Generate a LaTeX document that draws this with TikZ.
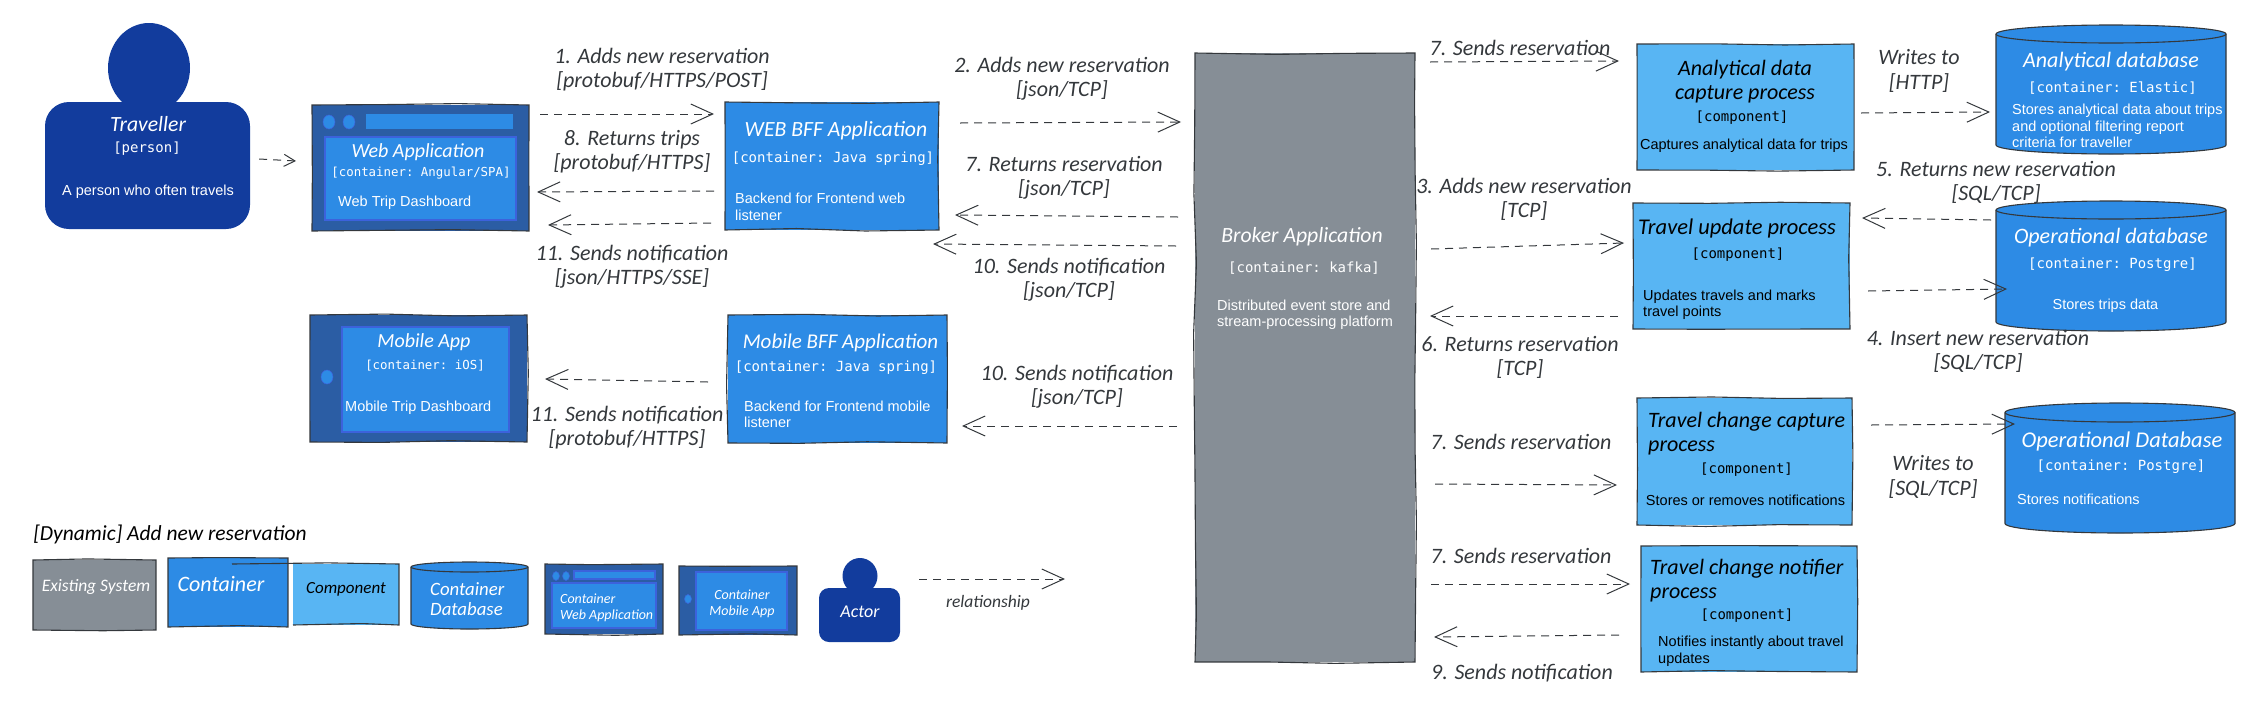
\documentclass[tikz,border=0pt]{standalone}
\usepackage{fontspec}
\setmainfont{Liberation Sans}
\setmonofont{DejaVu Sans Mono}
\newfontfamily\handfont{Carlito}
\usetikzlibrary{arrows.meta,decorations.pathmorphing,shapes.geometric}
\definecolor{inkc}{HTML}{34383C}
\definecolor{personc}{HTML}{123C9D}
\definecolor{framec}{HTML}{2B5DA4}
\definecolor{contc}{HTML}{2D8BE5}
\definecolor{compc}{HTML}{58B5F3}
\definecolor{greyc}{HTML}{868E96}
\definecolor{edgec}{HTML}{3C62DC}
\newcommand{\handsize}[1]{\handfont\itshape\fontsize{#1}{1.1\dimexpr #1pt\relax}\selectfont}
% node name, half width, height of the end ellipse
\newcommand{\dbshape}[3]{
  \draw[dbline,fill=contc] ([yshift=-#3pt]#1.north west) arc[start angle=180,end angle=0,x radius=#2pt,y radius=#3pt] -- ([yshift=#3pt]#1.south east) arc[start angle=0,end angle=-180,x radius=#2pt,y radius=#3pt] -- cycle;
  \draw[dbline] ([yshift=-#3pt]#1.north west) arc[start angle=180,end angle=360,x radius=#2pt,y radius=#3pt];
}
\tikzset{
  rough/.style={postaction={draw=inkc,line width=1.1pt,decorate,decoration={random steps,segment length=70pt,amplitude=1.5pt}}},
  blockbox/.style={inner sep=0pt,outer sep=0pt,rough},
  appbox/.style={blockbox,fill=contc},
  compbox/.style={blockbox,fill=compc},
  extbox/.style={blockbox,fill=greyc},
  framebox/.style={blockbox,fill=framec},
  panelbox/.style={inner sep=0pt,outer sep=0pt,fill=contc,draw=edgec,line width=1.2pt},
  dbbox/.style={inner sep=0pt,outer sep=0pt},
  dbline/.style={draw=inkc,line width=1.1pt},
  personbody/.style={inner sep=0pt,fill=personc,rounded corners=24pt},
  personhead/.style={shape=ellipse,inner sep=0pt,fill=personc},
  dotmark/.style={shape=ellipse,inner sep=0pt,fill=contc,draw=edgec,line width=.5pt},
  hand/.style={font=\handsize{22},text=inkc,align=center,inner sep=0pt},
  whitetitle/.style={font=\handsize{21.7},text=white,align=center,inner sep=0pt},
  blacktitle/.style={font=\handsize{22.5},text=black,align=center,inner sep=0pt},
  kind/.style={font=\ttfamily\fontsize{14}{15}\selectfont,inner sep=0pt},
  desc/.style={font=\fontsize{14.5}{16.5}\selectfont,align=left,inner sep=0pt},
  rel/.style={draw=inkc,line width=1pt,dash pattern=on 8pt off 6pt,-{Straight Barb[length=22pt,width=20pt]}},
  smallrel/.style={rel,-{Straight Barb[length=11pt,width=12pt]}}
}
\begin{document}
\begin{tikzpicture}[x=1pt,y=-1pt]
\pgfmathsetseed{12}
\useasboundingbox (0,0) rectangle (2249,710);

% traveller
\node[personhead,minimum width=82pt,minimum height=90pt] (travellerhead) at (149,68) {};
\node[personbody,minimum width=205pt,minimum height=127pt] (traveller) at (147.5,165.5) {};
\node[whitetitle] (travellertitle) at (148,124) {Traveller};
\node[kind,text=white] (travellerkind) at (147,149) {[person]};
\node[desc,text=white] (travellerdesc) at (148,192) {A person who often travels};

% web application
\node[framebox,minimum width=217pt,minimum height=126pt] (webapp) at (420.5,168) {};
\node[dotmark,minimum width=12pt,minimum height=14pt] (webdotone) at (329,122) {};
\node[dotmark,minimum width=12pt,minimum height=14pt] (webdottwo) at (349,122) {};
\node[inner sep=0pt,fill=contc,minimum width=147pt,minimum height=15pt] (webbar) at (439.5,121.5) {};
\node[panelbox,minimum width=191pt,minimum height=83pt] (webpanel) at (420.5,178.5) {};
\node[whitetitle,font=\handsize{20}] (webapptitle) at (418,152) {Web Application};
\node[kind,text=white,font=\ttfamily\fontsize{12.4}{15}\selectfont] (webappkind) at (421,173) {[container: Angular/SPA]};
\node[desc,text=white,anchor=west] (webappdesc) at (338,203) {Web Trip Dashboard};

% web bff
\node[appbox,minimum width=214pt,minimum height=128pt] (webbff) at (832,166) {};
\node[whitetitle] (webbfftitle) at (836,131) {WEB BFF Application};
\node[kind,text=white] (webbffkind) at (833,159) {[container: Java spring]};
\node[desc,text=white,anchor=west] (webbffdesc) at (735,207) {Backend for Frontend web\\listener};

% mobile application
\node[framebox,minimum width=217pt,minimum height=127pt] (mobileapp) at (418.5,378.5) {};
\node[dotmark,minimum width=12pt,minimum height=14pt] (mobiledot) at (327,377) {};
\node[panelbox,minimum width=167pt,minimum height=105pt] (mobilepanel) at (425.5,379.5) {};
\node[whitetitle,font=\handsize{20}] (mobileapptitle) at (424,342) {Mobile App};
\node[kind,text=white,font=\ttfamily\fontsize{12.4}{15}\selectfont] (mobileappkind) at (425,366) {[container: iOS]};
\node[desc,text=white,anchor=west] (mobileappdesc) at (345,408) {Mobile Trip Dashboard};

% mobile bff
\node[appbox,minimum width=219pt,minimum height=128pt] (mobilebff) at (837.5,379) {};
\node[whitetitle,font=\handsize{21}] (mobilebfftitle) at (840.5,343) {Mobile BFF Application};
\node[kind,text=white] (mobilebffkind) at (836,368) {[container: Java spring]};
\node[desc,text=white,anchor=west] (mobilebffdesc) at (744,414.5) {Backend for Frontend mobile\\listener};

% broker
\node[extbox,minimum width=220pt,minimum height=609pt] (broker) at (1305,357.5) {};
\node[whitetitle] (brokertitle) at (1302,237) {Broker Application};
\node[kind,text=white] (brokerkind) at (1304,268) {[container: kafka]};
\node[desc,text=white,anchor=west] (brokerdesc) at (1217,314.5) {Distributed event store and\\stream-processing platform};

% components
\node[compbox,minimum width=217pt,minimum height=126pt] (analytical) at (1745.5,107) {};
\node[blacktitle,font=\handsize{22}] (analyticaltitle) at (1745,82) {Analytical data\\capture process};
\node[kind] (analyticalkind) at (1742,118) {[component]};
\node[desc] (analyticaldesc) at (1744,146) {Captures analytical data for trips};

\node[compbox,minimum width=217pt,minimum height=126pt] (update) at (1741.5,266) {};
\node[blacktitle] (updatetitle) at (1737,228) {Travel update process};
\node[kind] (updatekind) at (1738,255) {[component]};
\node[desc,anchor=west] (updatedesc) at (1643,304.5) {Updates travels and marks\\travel points};

\node[compbox,minimum width=215pt,minimum height=127pt] (change) at (1744.5,461.5) {};
\node[blacktitle,anchor=west,align=left,font=\handsize{22}] (changetitle) at (1648,434) {Travel change capture\\process};
\node[kind] (changekind) at (1746.5,470) {[component]};
\node[desc] (changedesc) at (1745.5,500) {Stores or removes notifications};

\node[compbox,minimum width=216pt,minimum height=126pt] (notifier) at (1749,609) {};
\node[blacktitle,anchor=west,align=left,font=\handsize{22}] (notifiertitle) at (1650,581) {Travel change notifier\\process};
\node[kind] (notifierkind) at (1747,616) {[component]};
\node[desc,anchor=west] (notifierdesc) at (1658,651) {Notifies instantly about  travel\\updates};

% databases
\node[dbbox,minimum width=230pt,minimum height=129pt] (anadb) at (2111,89.5) {};
\dbshape{anadb}{115}{9}
\node[whitetitle,font=\handsize{22}] (anadbtitle) at (2111,62) {Analytical database};
\node[kind,text=white] (anadbkind) at (2112.5,88) {[container: Elastic]};
\node[desc,text=white,anchor=west] (anadbdesc) at (2012,126) {Stores analytical data about trips\\and  optional filtering report\\criteria for traveller};

\node[dbbox,minimum width=230pt,minimum height=130pt] (opdb) at (2111,266) {};
\dbshape{opdb}{115}{9}
\node[whitetitle,font=\handsize{22}] (opdbtitle) at (2111,238) {Operational database};
\node[kind,text=white] (opdbkind) at (2112.5,265) {[container: Postgre]};
\node[desc,text=white] (opdbdesc) at (2105.5,306) {Stores trips data};

\node[dbbox,minimum width=230pt,minimum height=130pt] (notifdb) at (2120,468) {};
\dbshape{notifdb}{115}{9.5}
\node[whitetitle,font=\handsize{22.5}] (notifdbtitle) at (2122,441) {Operational Database};
\node[kind,text=white] (notifdbkind) at (2121,467) {[container: Postgre]};
\node[desc,text=white,anchor=west] (notifdbdesc) at (2017,499) {Stores notifications};

% connectors
\draw[smallrel] ([shift={(9,-6.5)}]traveller.east) -- ([shift={(-16,-7)}]webapp.west);
\draw[rel] ([shift={(11,-54)}]webapp.east) -- ([shift={(-11,-52)}]webbff.west);
\draw[rel] ([shift={(-11,25)}]webbff.west) -- ([shift={(8,24)}]webapp.east);
\draw[rel] ([shift={(-14,57)}]webbff.west) -- ([shift={(19,57)}]webapp.east);
\draw[rel] ([shift={(21,-43)}]webbff.east) -- ([shift={(-14,-235.5)}]broker.west);
\draw[rel] ([shift={(-17,-140.5)}]broker.west) -- ([shift={(16,49)}]webbff.east);
\draw[rel] ([shift={(-19,-111.5)}]broker.west) -- ([shift={(-6,78)}]webbff.east);
\draw[rel] ([shift={(-20,3)}]mobilebff.west) -- ([shift={(18,.5)}]mobileapp.east);
\draw[rel] ([shift={(-18,68.5)}]broker.west) -- ([shift={(15,47)}]mobilebff.east);
\draw[rel] ([shift={(15,-295.5)}]broker.east) -- ([shift={(-18,-46)}]analytical.west);
\draw[rel] ([shift={(16,-108.5)}]broker.east) -- ([shift={(-9,-23)}]update.west);
\draw[rel] ([shift={(-15,50)}]update.west) -- ([shift={(15,-41.5)}]broker.east);
\draw[rel] ([shift={(20,126.5)}]broker.east) -- ([shift={(-20,23.5)}]change.west);
\draw[rel] ([shift={(16,226.5)}]broker.east) -- ([shift={(-11,-25)}]notifier.west);
\draw[rel] ([shift={(-22,26)}]notifier.west) -- ([shift={(19,279.5)}]broker.east);
\draw[rel] ([shift={(7,6)}]analytical.east) -- ([shift={(-121,22.5)}]anadb.center);
\draw[rel] ([shift={(-120,-46)}]opdb.center) -- ([shift={(12,-48)}]update.east);
\draw[rel] ([shift={(18,25)}]update.east) -- ([shift={(-104,23)}]opdb.center);
\draw[rel] ([shift={(19,-36.5)}]change.east) -- ([shift={(-105,-44)}]notifdb.center);

% connector labels
\node[hand] (labelone) at (662,70) {1. Adds new reservation\\{[protobuf/HTTPS/POST]}};
\node[hand] (labeleight) at (632,152) {8. Returns trips\\{[protobuf/HTTPS]}};
\node[hand] (labeleleven) at (632,267) {11. Sends notification\\{[json/HTTPS/SSE]}};
\node[hand] (labeltwo) at (1062,79) {2. Adds new reservation\\{[json/TCP]}};
\node[hand] (labelseven) at (1064,178) {7. Returns reservation\\{[json/TCP]}};
\node[hand] (labelten) at (1069,280) {10. Sends notification\\{[json/TCP]}};
\node[hand] (labelmobileten) at (1077,387) {10. Sends notification\\{[json/TCP]}};
\node[hand] (labelmobileeleven) at (627,428) {11. Sends notification\\{[protobuf/HTTPS]}};
\node[hand] (labelanalytical) at (1520,48) {7. Sends reservation};
\node[hand] (labelhttp) at (1919,71) {Writes to\\{[HTTP]}};
\node[hand] (labelfive) at (1996,182) {5. Returns new reservation\\{[SQL/TCP]}};
\node[hand] (labelthree) at (1524,199) {3. Adds new reservation\\{[TCP]}};
\node[hand] (labelsix) at (1520,357) {6. Returns reservation\\{[TCP]}};
\node[hand] (labelfour) at (1978,351) {4. Insert new reservation\\{[SQL/TCP]}};
\node[hand] (labelchange) at (1521,442) {7. Sends reservation};
\node[hand] (labelsql) at (1933,477) {Writes to\\{[SQL/TCP]}};
\node[hand] (labelnotifier) at (1521,556) {7. Sends reservation};
\node[hand] (labelnine) at (1522,673) {9. Sends notification};

% legend
\node[hand,text=black,font=\handsize{21.5}] (legendtitle) at (170,534) {[Dynamic] Add new reservation};
\node[extbox,minimum width=123pt,minimum height=70pt] (legendext) at (94.5,595) {};
\node[whitetitle,font=\handsize{17.5}] (legendexttext) at (96,587) {Existing System};
\node[appbox,minimum width=120pt,minimum height=69pt] (legendcont) at (228,592.5) {};
\node[whitetitle,font=\handsize{22}] (legendconttext) at (221,584) {Container};
\node[compbox,minimum width=106pt,minimum height=61pt] (legendcomp) at (346,594.5) {};
\node[blacktitle,font=\handsize{17}] (legendcomptext) at (346,589) {Component};
\node[dbbox,minimum width=117pt,minimum height=67pt] (legenddb) at (469.5,595.5) {};
\dbshape{legenddb}{58.5}{5}
\node[whitetitle,anchor=west,align=left,font=\handsize{18.8}] (legenddbtext) at (430,599) {Container\\Database};
\node[framebox,minimum width=118pt,minimum height=70pt] (legendweb) at (604,599) {};
\node[dotmark,minimum width=7pt,minimum height=9pt] (legenddotone) at (556,576) {};
\node[dotmark,minimum width=7pt,minimum height=9pt] (legenddottwo) at (566,576) {};
\node[panelbox,minimum width=81pt,minimum height=8pt] (legendbar) at (614.5,575) {};
\node[panelbox,minimum width=104pt,minimum height=45pt] (legendwebpanel) at (604,605.5) {};
\node[whitetitle,anchor=west,align=left,font=\handsize{14}] (legendwebtext) at (560,608) {Container\\Web Application};
\node[framebox,minimum width=118pt,minimum height=69pt] (legendmobile) at (738,600.5) {};
\node[dotmark,minimum width=7pt,minimum height=9pt] (legenddot) at (688,599) {};
\node[panelbox,minimum width=91pt,minimum height=58pt] (legendmobilepanel) at (741.5,601) {};
\node[whitetitle,font=\handsize{14}] (legendmobiletext) at (742,604) {Container\\Mobile App};
\node[personhead,minimum width=35pt,minimum height=36pt] (actorhead) at (860,576) {};
\node[personbody,rounded corners=10pt,minimum width=81pt,minimum height=54pt] (actor) at (859.5,615) {};
\node[whitetitle,font=\handsize{18}] (actortext) at (860,612) {Actor};
\coordinate (legendend) at (1065,579);
\draw[rel] ([shift={(19,-36)}]actor.east) -- (legendend);
\node[hand,font=\handsize{17.5}] (legendrel) at (988,603) {relationship};
\end{tikzpicture}
\end{document}
